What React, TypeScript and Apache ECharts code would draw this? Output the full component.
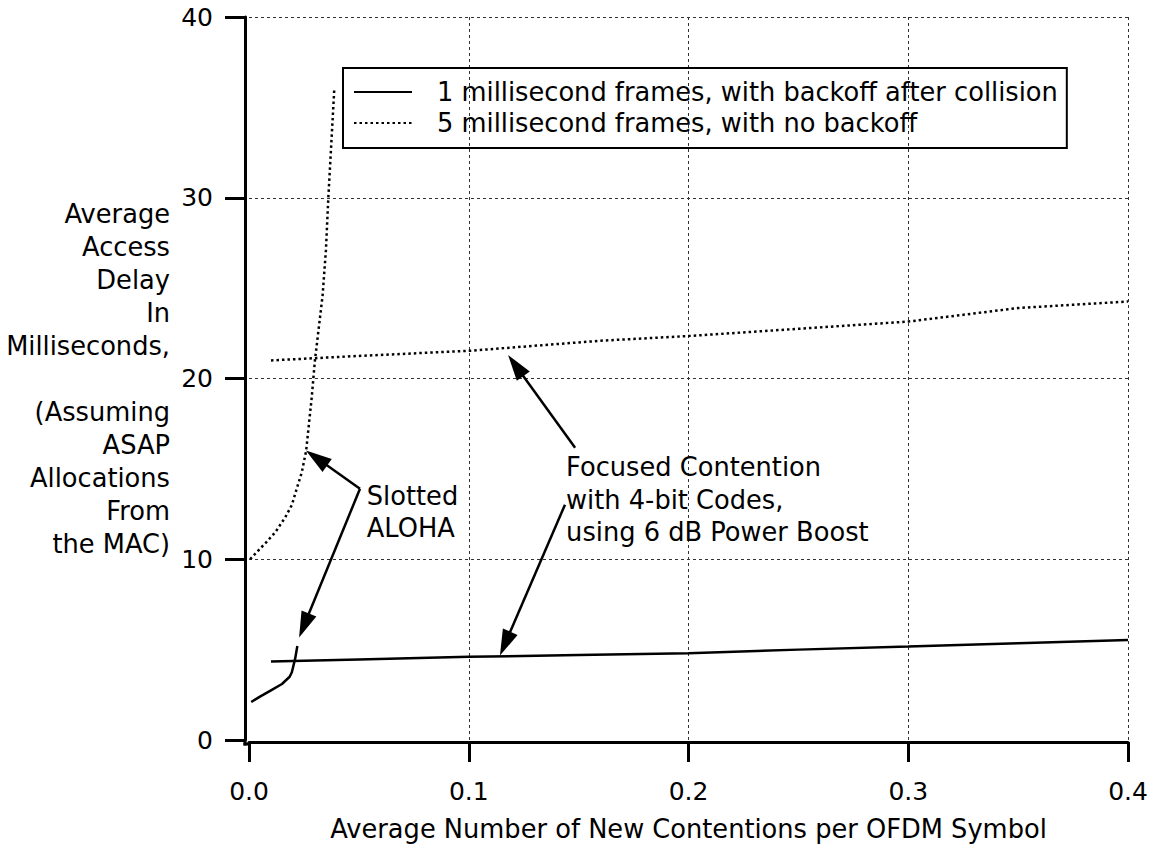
import React, { useEffect, useRef } from "react";
import * as echarts from "echarts";

const FONT = "'DejaVu Sans', Verdana, sans-serif";
const TEXT_SIZE = 25.7;

// 1 ms frames (solid)
const solidAlohaX = [0.001, 0.005, 0.01, 0.015, 0.0185, 0.0195, 0.021, 0.022];
const solidAlohaY = [2.1, 2.4, 2.75, 3.1, 3.5, 3.75, 4.5, 5.2];
const solidFocusedX = [0.01, 0.05, 0.1, 0.15, 0.2, 0.25, 0.3, 0.35, 0.4];
const solidFocusedY = [4.34, 4.45, 4.6, 4.7, 4.8, 5.0, 5.17, 5.35, 5.53];

// 5 ms frames (dotted)
const dottedAlohaX = [0.0005, 0.004, 0.008, 0.012, 0.0164, 0.0195, 0.0217, 0.024, 0.026, 0.0285, 0.03, 0.0335, 0.035, 0.0361, 0.0388];
const dottedAlohaY = [10.0, 10.45, 10.96, 11.5, 12.3, 13.0, 13.9, 14.8, 16.0, 18.9, 21.0, 24.6, 27.1, 30.0, 36.0];
const dottedFocusedX = [0.01, 0.05, 0.1, 0.16, 0.2, 0.25, 0.3, 0.35, 0.4];
const dottedFocusedY = [21.0, 21.25, 21.53, 22.09, 22.35, 22.75, 23.15, 23.9, 24.26];

const seriesNames = [
  "1 millisecond frames, with backoff after collision",
  "5 millisecond frames, with no backoff",
];

const xTickValues = [0, 0.1, 0.2, 0.3, 0.4];
const yTickValues = [0, 10, 20, 30, 40];

const xTitle = "Average Number of New Contentions per OFDM Symbol";
const yTitleLines = [
  "Average",
  "Access",
  "Delay",
  "In",
  "Milliseconds,",
  "",
  "(Assuming",
  "ASAP",
  "Allocations",
  "From",
  "the MAC)",
];

// annotation arrows (data coordinates): from -> to (arrow tip)
const arrowFrom = [
  [0.0505, 13.9],
  [0.0505, 13.9],
  [0.1484, 16.17],
  [0.1438, 13.02],
];
const arrowTo = [
  [0.0259, 16.02],
  [0.0228, 5.67],
  [0.1179, 21.3],
  [0.1142, 4.67],
];

// annotation texts (left edge, vertical centre in data coordinates)
const noteTexts = ["Slotted", "ALOHA", "Focused Contention", "with 4-bit Codes,", "using 6 dB Power Boost"];
const noteX = [0.0536, 0.0536, 0.1443, 0.1443, 0.1443];
const noteY = [13.52, 11.75, 15.12, 13.3, 11.48];

const zip = (xs: number[], ys: number[]) => xs.map((x, i) => [x, ys[i]]);

export default function App() {
  const ref = useRef<HTMLDivElement>(null);

  useEffect(() => {
    if (!ref.current) return;
    const chart = echarts.init(ref.current, undefined, { renderer: "svg" });

    const solidStyle = { color: "#000", width: 2.5, type: "solid" as const };
    const dottedStyle = { color: "#000", width: 2.5, type: [2.5, 3] as any };

    const axisLineStyle = { color: "#000", width: 3 };
    const gridStyle = { color: "#333", width: 1, type: [3, 3] as any };

    chart.setOption({
      animation: false,
      backgroundColor: "#fff",
      textStyle: { fontFamily: FONT },
      grid: { left: 249, right: 25, top: 17, bottom: 105, containLabel: false },
      legend: {
        orient: "vertical",
        left: 343,
        top: 68,
        data: seriesNames,
        borderColor: "#000",
        borderWidth: 2,
        padding: [11, 9, 12, 10],
        itemWidth: 58,
        itemHeight: 25,
        itemGap: 5,
        itemStyle: { color: "transparent", borderWidth: 0, opacity: 0 },
        textStyle: {
          fontFamily: FONT,
          fontSize: TEXT_SIZE,
          color: "#000",
          padding: [0, 0, 0, 20],
        },
        selectedMode: false,
      },
      xAxis: {
        type: "value",
        min: xTickValues[0],
        max: xTickValues[xTickValues.length - 1],
        interval: 0.1,
        offset: 2,
        axisLine: { show: true, onZero: false, lineStyle: axisLineStyle },
        axisTick: { show: true, length: 20, lineStyle: axisLineStyle },
        axisLabel: {
          margin: 37,
          fontSize: 25,
          color: "#000",
          fontFamily: FONT,
          formatter: (v: number) => v.toFixed(1),
        },
        splitLine: { show: true, showMinLine: false, lineStyle: gridStyle },
        name: xTitle,
        nameLocation: "middle",
        nameGap: 74,
        nameTextStyle: { fontSize: TEXT_SIZE, color: "#000", fontFamily: FONT },
      },
      yAxis: {
        type: "value",
        min: yTickValues[0],
        max: yTickValues[yTickValues.length - 1],
        interval: 10,
        offset: 4,
        axisLine: { show: true, onZero: false, lineStyle: axisLineStyle },
        axisTick: { show: true, length: 20, lineStyle: axisLineStyle },
        axisLabel: { margin: 32, fontSize: 25, color: "#000", fontFamily: FONT },
        splitLine: { show: true, showMinLine: false, lineStyle: gridStyle },
        name: yTitleLines.join("\n"),
        nameLocation: "middle",
        nameRotate: 0,
        nameGap: 75,
        nameTextStyle: {
          fontSize: TEXT_SIZE,
          lineHeight: 33,
          color: "#000",
          fontFamily: FONT,
          align: "right",
        },
      },
      series: [
        {
          name: seriesNames[0],
          type: "line",
          symbol: "none",
          data: zip(solidFocusedX, solidFocusedY),
          lineStyle: solidStyle,
          itemStyle: { color: "#000" },
        },
        {
          name: seriesNames[0],
          type: "line",
          symbol: "none",
          data: zip(solidAlohaX, solidAlohaY),
          lineStyle: solidStyle,
          itemStyle: { color: "#000" },
        },
        {
          name: seriesNames[1],
          type: "line",
          symbol: "none",
          data: zip(dottedAlohaX, dottedAlohaY),
          lineStyle: dottedStyle,
          itemStyle: { color: "#000" },
        },
        {
          name: seriesNames[1],
          type: "line",
          symbol: "none",
          data: zip(dottedFocusedX, dottedFocusedY),
          lineStyle: dottedStyle,
          itemStyle: { color: "#000" },
        },
      ],
    });

    // annotations positioned through the chart's own scales
    const toPx = (p: number[]) => chart.convertToPixel({ gridIndex: 0 }, p) as number[];
    const graphics: any[] = [];
    const headLen = 26;
    const headHalf = 8;
    arrowFrom.forEach((f, i) => {
      const a = toPx(f);
      const b = toPx(arrowTo[i]);
      const dx = b[0] - a[0];
      const dy = b[1] - a[1];
      const len = Math.sqrt(dx * dx + dy * dy);
      const ux = dx / len;
      const uy = dy / len;
      const bx = b[0] - ux * headLen;
      const by = b[1] - uy * headLen;
      graphics.push({
        type: "line",
        shape: { x1: a[0], y1: a[1], x2: bx + ux * 2, y2: by + uy * 2 },
        style: { stroke: "#000", lineWidth: 2.5 },
        z: 100,
      });
      graphics.push({
        type: "polygon",
        shape: {
          points: [
            [b[0], b[1]],
            [bx - uy * headHalf, by + ux * headHalf],
            [bx + uy * headHalf, by - ux * headHalf],
          ],
        },
        style: { fill: "#000" },
        z: 100,
      });
    });
    noteTexts.forEach((t, i) => {
      const p = toPx([noteX[i], noteY[i]]);
      graphics.push({
        type: "text",
        x: p[0],
        y: p[1],
        style: {
          text: t,
          font: `${TEXT_SIZE}px ${FONT}`,
          fill: "#000",
          textAlign: "left",
          textVerticalAlign: "middle",
        },
        z: 100,
      });
    });
    // close the small corner where the offset axes meet
    graphics.push({
      type: "line",
      shape: { x1: 243.5, y1: 744, x2: 250, y2: 744 },
      style: { stroke: "#000", lineWidth: 3 },
      z: 100,
    });
    graphics.push({
      type: "line",
      shape: { x1: 245, y1: 740, x2: 245, y2: 745.5 },
      style: { stroke: "#000", lineWidth: 3 },
      z: 100,
    });

    chart.setOption({ graphic: graphics });

    return () => chart.dispose();
  }, []);

  return (
    <div
      ref={ref}
      style={{ position: "fixed", left: 0, top: 0, width: 1153, height: 847, background: "#fff" }}
    />
  );
}
